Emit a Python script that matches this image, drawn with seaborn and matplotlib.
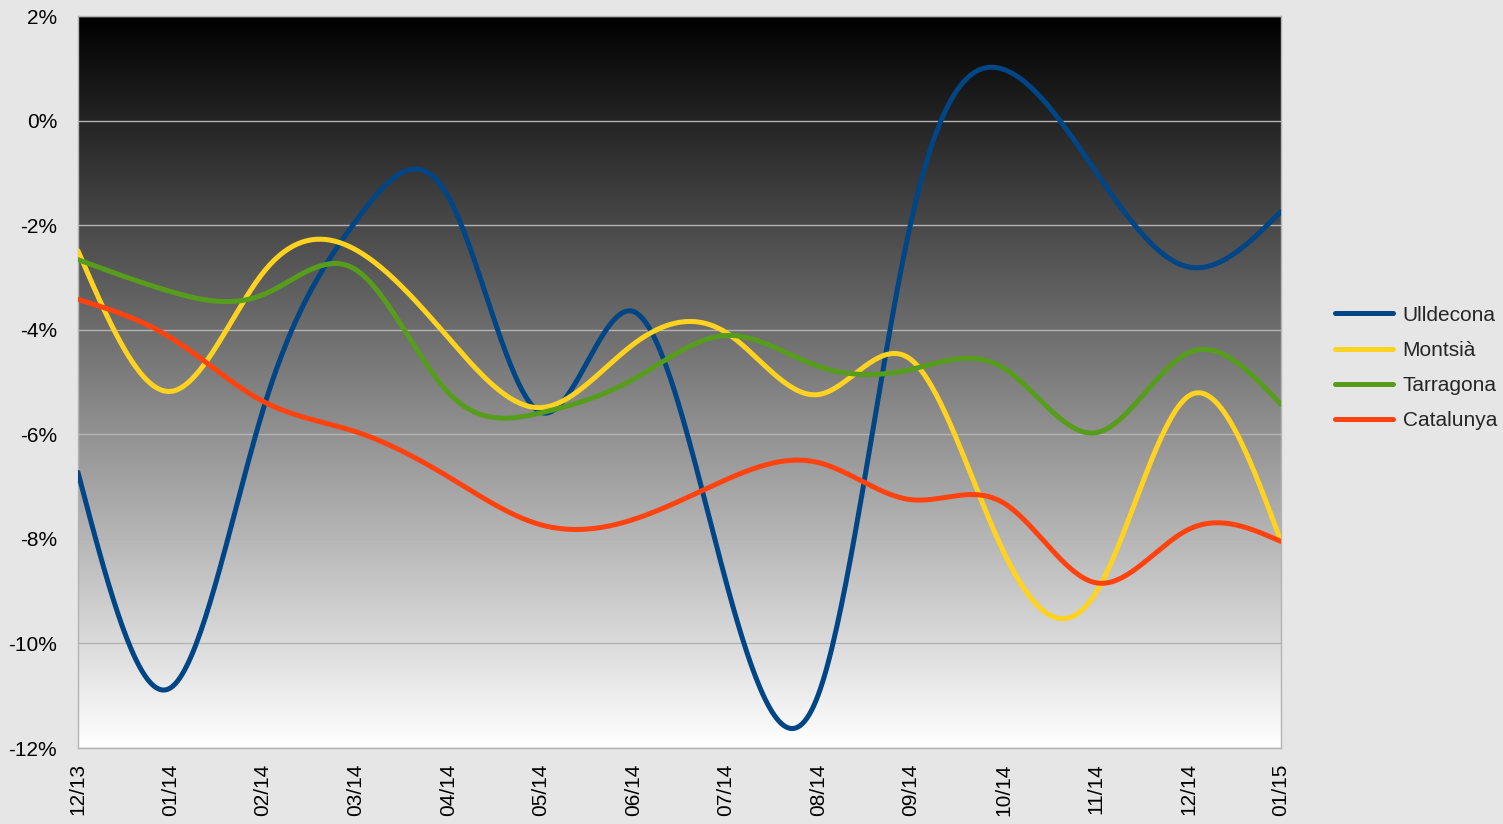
import numpy as np
import pandas as pd
import matplotlib
matplotlib.use("Agg")
import matplotlib.pyplot as plt
import seaborn as sns

# -----------------------------
# Data (monthly change, %)
# -----------------------------
months = ["12/13", "01/14", "02/14", "03/14", "04/14", "05/14", "06/14",
          "07/14", "08/14", "09/14", "10/14", "11/14", "12/14", "01/15"]
ulldecona = [-6.73, -10.85, -5.53, -1.93, -1.45, -5.58, -3.65,
             -8.80, -10.98, -1.95, 0.98, -0.98, -2.80, -1.74]
montsia = [-2.49, -5.18, -2.91, -2.47, -4.15, -5.49, -4.28,
           -4.05, -5.24, -4.57, -8.24, -9.03, -5.27, -8.05]
tarragona = [-2.66, -3.27, -3.33, -2.85, -5.20, -5.59, -4.95,
             -4.11, -4.70, -4.76, -4.73, -5.97, -4.44, -5.43]
catalunya = [-3.42, -4.15, -5.37, -5.95, -6.81, -7.73, -7.63,
             -6.87, -6.54, -7.25, -7.31, -8.84, -7.82, -8.05]

series_names = ["Ulldecona", "Montsià", "Tarragona", "Catalunya"]
series_values = [ulldecona, montsia, tarragona, catalunya]
colors = ["#004586", "#ffd320", "#579d1c", "#ff420e"]


# natural cubic spline through the points (smoothed line like the original)
def smooth(values, steps=40):
    y = np.asarray(values, dtype=float)
    n = len(y)
    A = np.zeros((n, n))
    b = np.zeros(n)
    A[0, 0] = A[-1, -1] = 1
    for i in range(1, n - 1):
        A[i, i - 1], A[i, i], A[i, i + 1] = 1, 4, 1
        b[i] = 6 * (y[i + 1] - 2 * y[i] + y[i - 1])
    M = np.linalg.solve(A, b)
    xs, ys = [], []
    for i in range(n - 1):
        t = np.linspace(0, 1, steps, endpoint=(i == n - 2))
        seg = ((1 - t) * y[i] + t * y[i + 1]
               + ((1 - t) ** 3 - (1 - t)) * M[i] / 6
               + (t ** 3 - t) * M[i + 1] / 6)
        xs.append(i + t)
        ys.append(seg)
    return np.concatenate(xs), np.concatenate(ys)


frames = []
for name, vals in zip(series_names, series_values):
    sx, sy = smooth(vals)
    frames.append(pd.DataFrame({"x": sx, "value": sy, "Serie": name}))
df = pd.concat(frames, ignore_index=True)

# -----------------------------
# Plot
# -----------------------------
sns.set_style("white")
plt.rcParams["font.family"] = ["Liberation Sans", "DejaVu Sans"]

fig = plt.figure(figsize=(15.03, 8.24), dpi=100, facecolor="#e6e6e6")
ax = fig.add_axes([78 / 1503, 1 - 748 / 824, (1281 - 78) / 1503, (748 - 16) / 824])

n = len(months)
# black-to-white gradient background
grad = np.linspace(0, 1, 256).reshape(-1, 1)
ax.imshow(grad, cmap="gray", aspect="auto", extent=[0, n - 1, -12, 2],
          origin="upper", zorder=0, vmin=0, vmax=1)

sns.lineplot(data=df, x="x", y="value", hue="Serie", palette=colors,
             hue_order=series_names, sort=False, estimator=None,
             linewidth=3.6, ax=ax, legend=False, zorder=3)

ax.set_xlim(0, n - 1)
ax.set_ylim(-12, 2)
ax.set_yticks(np.arange(-12, 3, 2))
ax.set_yticklabels([f"{v}%" for v in range(-12, 3, 2)])
ax.set_xticks(range(n))
ax.set_xticklabels(months, rotation=90)
ax.set_xlabel("")
ax.set_ylabel("")

ax.yaxis.grid(True, color="#b3b3b3", linewidth=1, zorder=1)
ax.set_axisbelow(False)
for sp in ax.spines.values():
    sp.set_color("#b3b3b3")
    sp.set_linewidth(1)
ax.tick_params(axis="y", length=8, width=1, color="#b3b3b3", pad=7,
               labelsize=15, labelcolor="black")
ax.tick_params(axis="x", length=7, width=1, color="#b3b3b3", pad=4,
               labelsize=15, labelcolor="black")
ax.set_facecolor("#e6e6e6")

handles = [plt.Line2D([], [], color=c, linewidth=3.6) for c in colors]
fig.legend(handles, series_names, loc="center left",
           bbox_to_anchor=(1335 / 1503, 1 - 368 / 824), frameon=False,
           fontsize=15, handlelength=2.8, handletextpad=0.45,
           labelspacing=0.78, borderpad=0, borderaxespad=0)

fig.savefig("out.png", dpi=100, facecolor="#e6e6e6")
